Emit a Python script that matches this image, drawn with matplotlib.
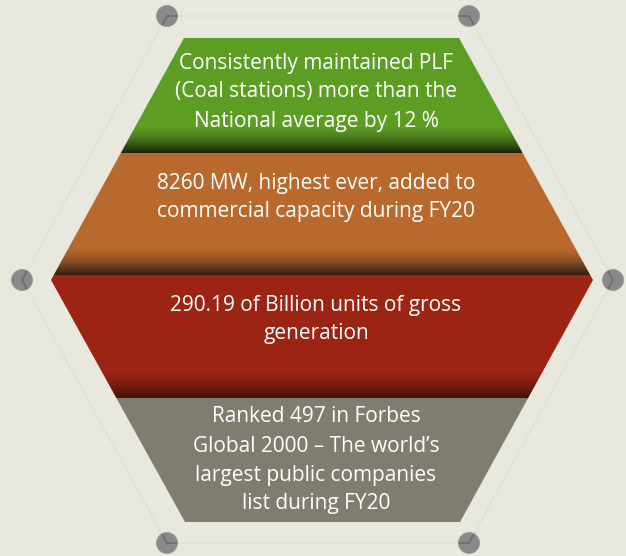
import numpy as np
import matplotlib
matplotlib.use("Agg")
import matplotlib.pyplot as plt
from matplotlib.patches import Polygon, Circle
from matplotlib.colors import to_rgb

W, H = 626, 556
bg = "#e9e8df"

band_texts = [
    ["Consistently maintained PLF", "(Coal stations) more than the", "National average by 12 %"],
    ["8260 MW, highest ever, added to", "commercial capacity during FY20"],
    ["290.19 of Billion units of gross", "generation"],
    ["Ranked 497 in Forbes", "Global 2000 \u2013 The world\u2019s", "largest public companies", "list during FY20"],
]
band_colors = ["#5e9d24", "#b8692d", "#9b2415", "#7e7d70"]
band_dark = ["#15200a", "#2a1a12", "#3a1208", None]
band_edges = [38, 153, 275, 398, 522]
text_line_y = [[63, 92, 121], [183, 211], [305, 333], [417, 446, 475, 504]]

# hexagon geometry (pixel coords)
inner_hex = [(184, 38), (459, 38), (593, 280), (460, 522), (185, 522), (51, 280)]
outer_hex = [(167, 16), (469, 16), (613, 280), (469, 543), (167, 543), (22, 280)]

fig = plt.figure(figsize=(W / 100, H / 100), dpi=100)
fig.patch.set_facecolor(bg)
ax = fig.add_axes([0, 0, 1, 1])
ax.set_xlim(0, W)
ax.set_ylim(H, 0)
ax.axis("off")
ax.set_facecolor(bg)

# outer faint hexagon line
ox = [p[0] for p in outer_hex] + [outer_hex[0][0]]
oy = [p[1] for p in outer_hex] + [outer_hex[0][1]]
ax.plot(ox, oy, color="#dcdcd6", lw=0.7, zorder=1)

# gradient image for inner hexagon
img = np.zeros((H, W, 3))
img[:] = to_rgb(bg)
for i in range(4):
    y0, y1 = band_edges[i], band_edges[i + 1]
    base = np.array(to_rgb(band_colors[i]))
    for y in range(y0, y1):
        c = base.copy()
        if band_dark[i] is not None:
            dk = np.array(to_rgb(band_dark[i]))
            shade_len = 28
            t = (y - (y1 - shade_len)) / shade_len
            if t > 0:
                t = min(1.0, t) ** 1.5
                c = base * (1 - t) + dk * t
        img[y, :, :] = c
im = ax.imshow(img, extent=(0, W, H, 0), origin="upper", zorder=2, interpolation="bilinear")
clip = Polygon(inner_hex, closed=True, transform=ax.transData, facecolor="none", edgecolor="none")
ax.add_patch(clip)
im.set_clip_path(clip)

# circles at outer corners with darker chevron
n = len(outer_hex)
for k, (cx, cy) in enumerate(outer_hex):
    circ = Circle((cx, cy), 10.5, facecolor="#8b8889", edgecolor="#9a9798", lw=0.6, zorder=4)
    ax.add_patch(circ)
    prev = outer_hex[(k - 1) % n]
    nxt = outer_hex[(k + 1) % n]
    ln, = ax.plot([prev[0], cx, nxt[0]], [prev[1], cy, nxt[1]], color="#716e6f", lw=1.3, zorder=5)
    ln.set_clip_path(circ)

# texts
for lines, ys in zip(band_texts, text_line_y):
    for s, y in zip(lines, ys):
        ax.text(W / 2 + 3, y, s, ha="center", va="center", color="white",
                fontsize=15, family="Open Sans", zorder=6)

fig.savefig("out.png", dpi=100, facecolor=bg)
